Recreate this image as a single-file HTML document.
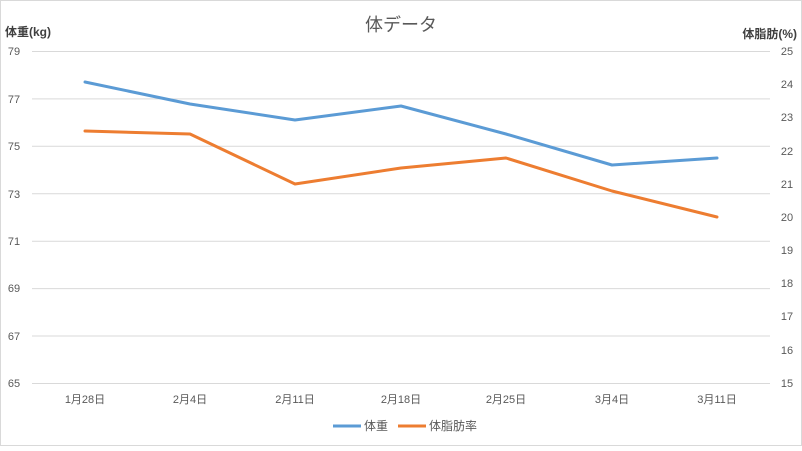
<!DOCTYPE html>
<html><head><meta charset="utf-8"><style>
html,body{margin:0;padding:0;background:#fff;}
svg text{font-family:"Liberation Sans","Noto Sans CJK JP",sans-serif;}
</style></head><body>
<svg width="802" height="446" viewBox="0 0 802 446" xmlns="http://www.w3.org/2000/svg">
<rect x="0.5" y="0.5" width="801" height="445" fill="#fff" stroke="#d9d9d9"/>
<text x="401" y="31" font-size="18" fill="#595959" text-anchor="middle">体データ</text>
<text x="5" y="36" font-size="12" font-weight="bold" fill="#404040">体重(kg)</text>
<text x="797" y="38" font-size="12" font-weight="bold" fill="#404040" text-anchor="end">体脂肪(%)</text>
<g stroke="#d9d9d9" stroke-width="1">
<line x1="32" x2="770" y1="51.5" y2="51.5"/>
<line x1="32" x2="770" y1="98.9" y2="98.9"/>
<line x1="32" x2="770" y1="146.3" y2="146.3"/>
<line x1="32" x2="770" y1="193.8" y2="193.8"/>
<line x1="32" x2="770" y1="241.2" y2="241.2"/>
<line x1="32" x2="770" y1="288.6" y2="288.6"/>
<line x1="32" x2="770" y1="336" y2="336"/>
<line x1="32" x2="770" y1="383.5" y2="383.5"/>
</g>
<g font-size="11" fill="#595959" text-anchor="middle">
<text x="14" y="55">79</text><text x="14" y="103">77</text><text x="14" y="150">75</text><text x="14" y="198">73</text><text x="14" y="245">71</text><text x="14" y="292">69</text><text x="14" y="340">67</text><text x="14" y="387">65</text>
<text x="787" y="55">25</text><text x="787" y="88">24</text><text x="787" y="121">23</text><text x="787" y="155">22</text><text x="787" y="188">21</text><text x="787" y="221">20</text><text x="787" y="254">19</text><text x="787" y="287">18</text><text x="787" y="320">17</text><text x="787" y="354">16</text><text x="787" y="387">15</text>
<text x="85" y="403">1月28日</text><text x="190" y="403">2月4日</text><text x="295" y="403">2月11日</text><text x="401" y="403">2月18日</text><text x="506" y="403">2月25日</text><text x="612" y="403">3月4日</text><text x="717" y="403">3月11日</text>
</g>
<polyline fill="none" stroke="#5b9bd5" stroke-width="3" stroke-linejoin="round" stroke-linecap="round" points="85,82 190,104 295,120 401,106 506,134 612,165 717,158"/>
<polyline fill="none" stroke="#ed7d31" stroke-width="3" stroke-linejoin="round" stroke-linecap="round" points="85,131 190,134 295,184 401,168 506,158 612,191 717,217"/>
<line x1="333" x2="361" y1="426" y2="426" stroke="#5b9bd5" stroke-width="3"/>
<text x="364" y="430" font-size="12" fill="#595959">体重</text>
<line x1="398" x2="426" y1="426" y2="426" stroke="#ed7d31" stroke-width="3"/>
<text x="429" y="430" font-size="12" fill="#595959">体脂肪率</text>
</svg>
</body></html>
